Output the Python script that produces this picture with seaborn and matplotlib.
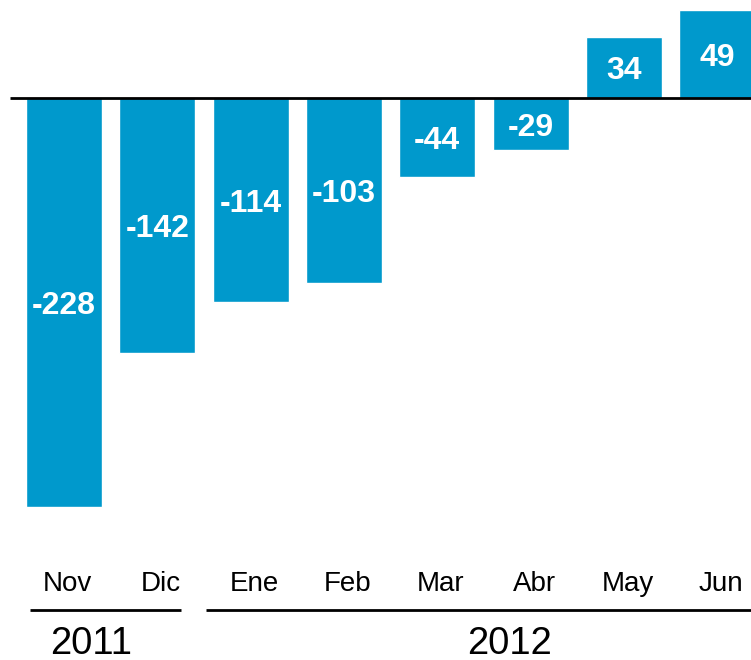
import matplotlib
matplotlib.use("Agg")
import matplotlib.pyplot as plt
import pandas as pd
import seaborn as sns

# Data
months = ["Nov", "Dic", "Ene", "Feb", "Mar", "Abr", "May", "Jun"]
values = [-228, -142, -114, -103, -44, -29, 34, 49]
years = ["2011", "2012"]
year_spans = [(0, 1), (2, 7)]  # month index range for each year
year_label_x = [0.29, 4.77]

sns.set_style("white")
plt.rcParams["font.family"] = ["Liberation Sans", "DejaVu Sans"]

bar_color = "#0099cc"

df = pd.DataFrame({"month": months, "value": values})

fig = plt.figure(figsize=(7.51, 6.6), dpi=100)
ax = fig.add_axes([0, 0, 1, 1])

sns.barplot(data=df, x="month", y="value", color=bar_color, width=0.815,
            saturation=1, ax=ax)

ax.set_xlim(-0.686, 7.363)
ax.set_ylim(-313.3, 54.6)
ax.axis("off")

# zero line
ax.plot([-0.58, 7.363], [0, 0], color="black", lw=2, solid_capstyle="butt", zorder=3)

# value labels centered inside bars
for i, v in enumerate(values):
    ax.text(i, v / 2 - 2.2, f"{v}", ha="center", va="center", color="white",
            fontsize=23, fontweight="bold")

# month labels
for i, m in enumerate(months):
    ax.text(i + 0.04, -271, m, ha="center", va="center", fontsize=20, color="black")

# year brackets
for yr, (a, b), xl in zip(years, year_spans, year_label_x):
    left = a - 0.364 if a == 0 else a - 0.48
    right = b + 0.254 if b < 7 else 7.363
    ax.plot([left, right], [-285.4, -285.4], color="black", lw=2,
            solid_capstyle="butt")
    ax.text(xl, -304.5, yr, ha="center", va="center",
            fontsize=27.5, color="black")

fig.savefig("out.png", dpi=100)
